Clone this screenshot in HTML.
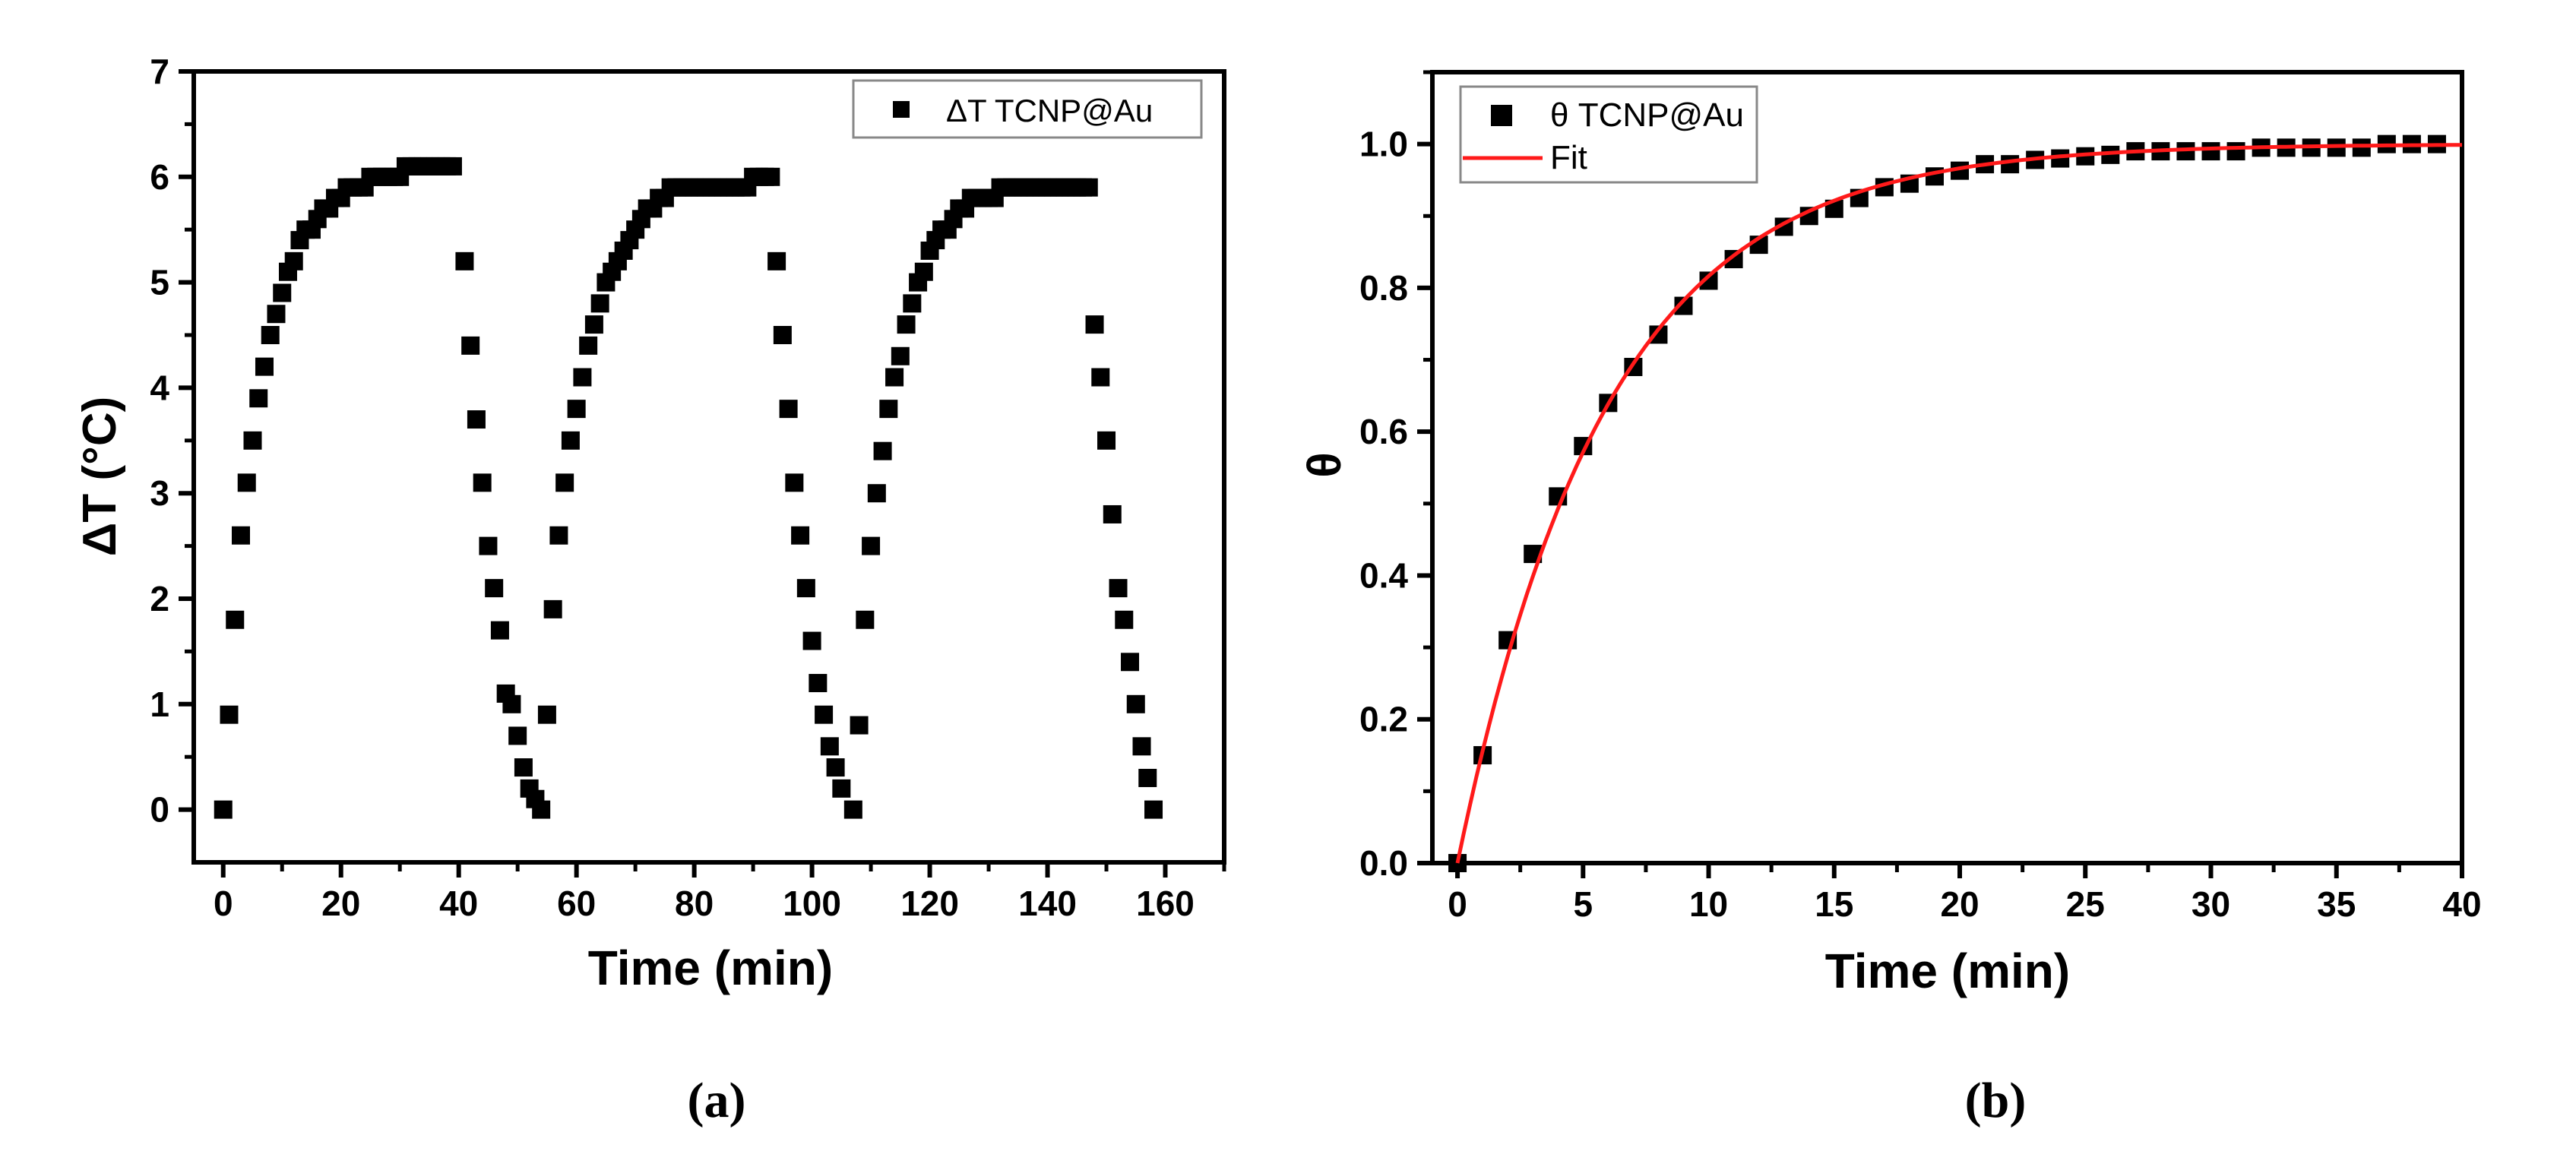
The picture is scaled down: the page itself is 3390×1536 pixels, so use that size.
<!DOCTYPE html>
<html><head><meta charset="utf-8"><style>
html,body{margin:0;padding:0;background:#fff;}
svg{display:block;}
text{font-family:"Liberation Sans",sans-serif;}
text.serif{font-family:"Liberation Serif",serif;}
</style></head><body>
<svg id="fig" width="3390" height="1536" viewBox="0 0 3390 1536" xmlns="http://www.w3.org/2000/svg">
<g id="pa"></g>
<g id="pb"></g>
<text class="serif" x="943" y="1470" font-weight="bold" font-size="66" text-anchor="middle">(a)</text>
<text class="serif" x="2626" y="1470" font-weight="bold" font-size="66" text-anchor="middle">(b)</text>
</svg>
<script>
// Panel A data
const aTimes = [0,1,2,3,4,5,6,7,8,9,10,11,12,13,14,15,16,17,18,19,20,21,22,23,24,25,26,27,28,29,30,31,32,33,34,35,36,37,38,39,
41,42,43,44,45,46,47,48,49,50,51,52,53,
54,55,56,57,58,59,60,61,62,63,64,65,66,67,68,69,70,71,72,73,74,75,76,77,78,79,80,81,82,83,84,85,86,87,88,89,90,91,92,
93,94,95,96,97,98,99,100,101,102,103,104,105,
107,108,109,110,111,112,113,114,115,116,117,118,119,120,121,122,123,124,125,126,127,128,129,130,131,132,133,134,135,136,137,138,139,140,141,142,143,144,145,146,147,
148,149,150,151,152,153,154,155,156,157,158];
const aValues = [0,0.9,1.8,2.6,3.1,3.5,3.9,4.2,4.5,4.7,4.9,5.1,5.2,5.4,5.5,5.5,5.6,5.7,5.7,5.8,5.8,5.9,5.9,5.9,5.9,6.0,6.0,6.0,6.0,6.0,6.0,6.1,6.1,6.1,6.1,6.1,6.1,6.1,6.1,6.1,
5.2,4.4,3.7,3.1,2.5,2.1,1.7,1.1,1.0,0.7,0.4,0.2,0.1,0.0,
0.9,1.9,2.6,3.1,3.5,3.8,4.1,4.4,4.6,4.8,5.0,5.1,5.2,5.3,5.4,5.5,5.6,5.7,5.7,5.8,5.8,5.9,5.9,5.9,5.9,5.9,5.9,5.9,5.9,5.9,5.9,5.9,5.9,5.9,5.9,6.0,6.0,6.0,6.0,
5.2,4.5,3.8,3.1,2.6,2.1,1.6,1.2,0.9,0.6,0.4,0.2,0.0,
0.8,1.8,2.5,3.0,3.4,3.8,4.1,4.3,4.6,4.8,5.0,5.1,5.3,5.4,5.5,5.5,5.6,5.7,5.7,5.8,5.8,5.8,5.8,5.8,5.9,5.9,5.9,5.9,5.9,5.9,5.9,5.9,5.9,5.9,5.9,5.9,5.9,5.9,5.9,5.9,
4.6,4.1,3.5,2.8,2.1,1.8,1.4,1.0,0.6,0.3,0.0];
const aXTicks = [0,20,40,60,80,100,120,140,160];
const aYTicks = [0,1,2,3,4,5,6,7];
// Panel B data
const bTimes = [0,1,2,3,4,5,6,7,8,9,10,11,12,13,14,15,16,17,18,19,20,21,22,23,24,25,26,27,28,29,30,31,32,33,34,35,36,37,38,39];
const bValues = [0,0.15,0.31,0.43,0.51,0.58,0.64,0.69,0.735,0.775,0.81,0.84,0.86,0.885,0.9,0.91,0.925,0.94,0.945,0.955,0.963,0.972,0.972,0.978,0.98,0.983,0.985,0.99,0.99,0.99,0.99,0.99,0.995,0.995,0.995,0.995,0.995,1.0,1.0,1.0];
const bFitTau = [5.9];
const bXTicks = [0,5,10,15,20,25,30,35,40];
const bYTicks = [0.0,0.2,0.4,0.6,0.8,1.0];
const bYLabels = ["0.0","0.2","0.4","0.6","0.8","1.0"];

const NS="http://www.w3.org/2000/svg";
function mk(parent,tag,attrs,txt){const e=document.createElementNS(NS,tag);for(const k in attrs)e.setAttribute(k,attrs[k]);if(txt!==undefined)e.textContent=txt;parent.appendChild(e);return e;}

function axes(g,o){
  const sx=v=>o.L+(v-o.x0)/(o.x1-o.x0)*(o.R-o.L);
  const sy=v=>o.B-(v-o.y0)/(o.y1-o.y0)*(o.B-o.T);
  const frame=mk(g,'rect',{x:o.L,y:o.T,width:o.R-o.L,height:o.B-o.T,fill:'none',stroke:'#000','stroke-width':6});
  
  
  for(let i=0;i<o.xt.length;i++){
    const v=o.xt[i],x=sx(v);
    const t=mk(g,'line',{x1:x,y1:o.B,x2:x,y2:o.B+20,stroke:'#000','stroke-width':6});
    
    
    const l=mk(g,'text',{x:x,y:o.B+70,'font-size':46,'font-weight':'bold','text-anchor':'middle'},o.xl?o.xl[i]:String(v));
    
    
    if(v+o.xm<=o.x1){const xm=sx(v+o.xm);
      const m=mk(g,'line',{x1:xm,y1:o.B,x2:xm,y2:o.B+12,stroke:'#000','stroke-width':5});
      
      }
  }
  for(let i=0;i<o.yt.length;i++){
    const v=o.yt[i],y=sy(v);
    const t=mk(g,'line',{x1:o.L-20,y1:y,x2:o.L,y2:y,stroke:'#000','stroke-width':6});
    
    
    const l=mk(g,'text',{x:o.L-32,y:y+16,'font-size':46,'font-weight':'bold','text-anchor':'end'},o.yl?o.yl[i]:String(v));
    
    
    if(v+o.ym<=o.y1+1e-9){const ym=sy(v+o.ym);
      const m=mk(g,'line',{x1:o.L-12,y1:ym,x2:o.L,y2:ym,stroke:'#000','stroke-width':5});
      
      }
  }
  return {sx,sy};
}

// Panel A
const pa=document.getElementById('pa');
const A=axes(pa,{L:255,R:1611,T:94,B:1135,x0:-5,x1:170,y0:-0.5,y1:7,xt:aXTicks,xm:10,yt:aYTicks,ym:0.5});
const ma=mk(pa,'g',{});


for(let i=0;i<aTimes.length;i++){
  const r=mk(ma,'rect',{x:A.sx(aTimes[i])-12,y:A.sy(aValues[i])-12,width:24,height:24,fill:'#000'});
  
  
}
const ta=mk(pa,'text',{x:0,y:0,'font-size':62,'font-weight':'bold','text-anchor':'middle',transform:'translate(152,627) rotate(-90)'},'\u0394T (\u00B0C)');


const xa=mk(pa,'text',{x:935,y:1296,'font-size':64,'font-weight':'bold','text-anchor':'middle'},'Time (min)');


const lga=mk(pa,'g',{});


mk(lga,'rect',{x:1123,y:106,width:458,height:75,fill:'#fff',stroke:'#888','stroke-width':3});
mk(lga,'rect',{x:1175,y:133,width:22,height:22,fill:'#000'});
const lta=mk(lga,'text',{x:1245,y:160,'font-size':42},'\u0394T TCNP@Au');



// Panel B
const pb=document.getElementById('pb');
const B=axes(pb,{L:1885,R:3240,T:95,B:1136,x0:-1,x1:40,y0:0,y1:1.1,xt:bXTicks,xm:2.5,yt:bYTicks,yl:bYLabels,ym:0.1});
const mb=mk(pb,'g',{});


for(let i=0;i<bTimes.length;i++){
  const r=mk(mb,'rect',{x:B.sx(bTimes[i])-12,y:B.sy(bValues[i])-12,width:24,height:24,fill:'#000'});
  
  
}
let d='';
for(let t=0;t<=40.001;t+=0.25){const v=1-Math.exp(-t/bFitTau[0]);d+=(d?'L':'M')+B.sx(t).toFixed(1)+','+B.sy(v).toFixed(1);}
const fit=mk(pb,'path',{d:d,fill:'none',stroke:'#ff1a1a','stroke-width':5});


const tb=mk(pb,'text',{x:0,y:0,'font-size':62,'font-weight':'bold','text-anchor':'middle',transform:'translate(1764,612) rotate(-90)'},'\u03B8');


const xb=mk(pb,'text',{x:2563,y:1300,'font-size':64,'font-weight':'bold','text-anchor':'middle'},'Time (min)');


const lgb=mk(pb,'g',{});


mk(lgb,'rect',{x:1922,y:114,width:390,height:126,fill:'#fff',stroke:'#888','stroke-width':3});
mk(lgb,'rect',{x:1962,y:138,width:28,height:28,fill:'#000'});
const lb1=mk(lgb,'text',{x:2040,y:166,'font-size':44},'\u03B8 TCNP@Au');


mk(lgb,'line',{x1:1925,y1:208,x2:2030,y2:208,stroke:'#ff1a1a','stroke-width':5});
const lb2=mk(lgb,'text',{x:2040,y:222,'font-size':44},'Fit');


</script>
</body></html>
